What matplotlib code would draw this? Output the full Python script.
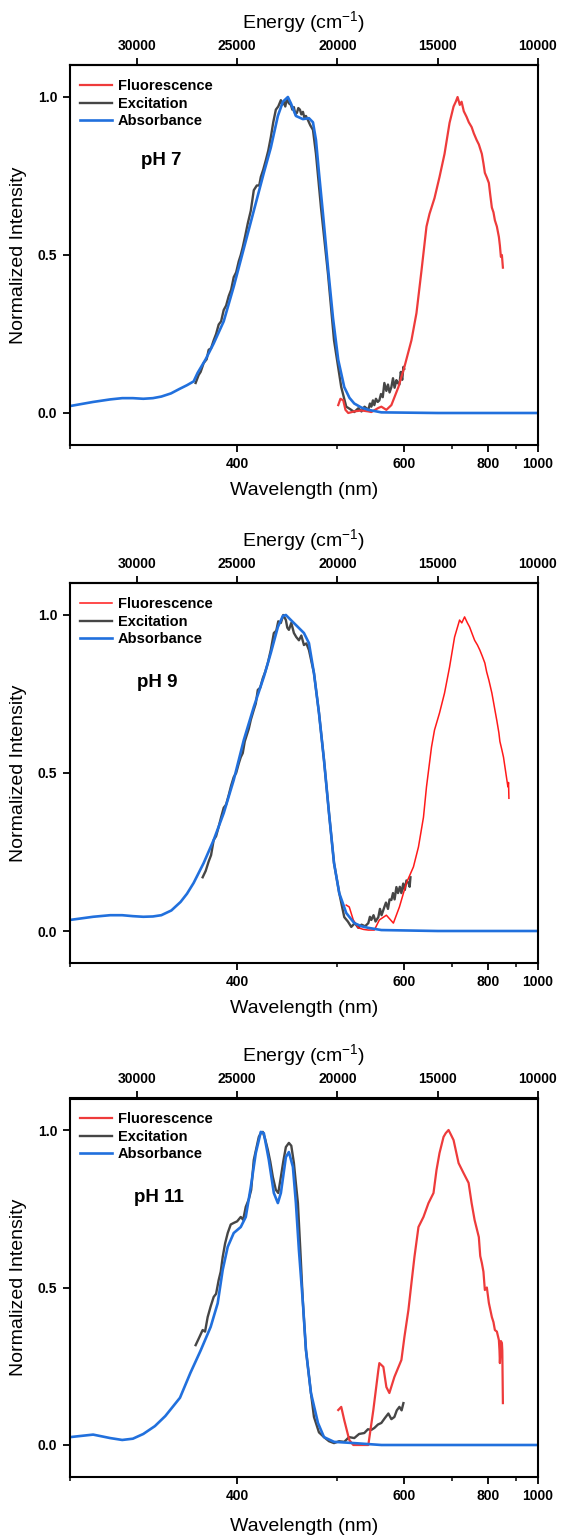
import numpy as np
import matplotlib
matplotlib.use("Agg")
import matplotlib.pyplot as plt
import matplotlib.transforms as mtransforms

plt.rcParams['font.family'] = ['Liberation Sans', 'DejaVu Sans']
plt.rcParams['mathtext.default'] = 'regular'

# ---------------- pH 7 ----------------
abs7_wn = [33333, 32180, 31330, 30730, 30200, 29680, 29200, 28780, 28300, 27880,
           27500, 27170, 26970, 26570, 26170, 25670, 25170, 24670, 24170, 23670,
           23320, 22970, 22720, 22470, 22320, 22070, 21720, 21420, 21220, 21070,
           20920, 20720, 20470, 20220, 19960, 19660, 19400, 19160, 18800, 18460,
           17810, 15000, 12500, 10000]
abs7_y = [0.022, 0.035, 0.043, 0.047, 0.047, 0.045, 0.047, 0.052, 0.062, 0.076,
          0.088, 0.100, 0.127, 0.17, 0.22, 0.29, 0.40, 0.52, 0.64, 0.76,
          0.84, 0.94, 0.985, 1.0, 0.98, 0.94, 0.93, 0.933, 0.92, 0.864,
          0.76, 0.63, 0.46, 0.30, 0.168, 0.082, 0.048, 0.03, 0.017, 0.01,
          0.002, 0.0, 0.0, 0.0]

exc7_wn = [27070, 26920, 26820, 26670, 26520, 26420, 26300, 26170, 26050, 25920,
           25800, 25670, 25550, 25420, 25300, 25170, 25050, 24920, 24820, 24720,
           24600, 24470, 24320, 24170, 24020, 23900, 23820, 23700, 23570, 23450,
           23320, 23200, 23070, 22950, 22820, 22750, 22670, 22600, 22520, 22420,
           22320, 22250, 22170, 22100, 22020, 21950, 21870, 21800, 21720, 21650,
           21570, 21470, 21350, 21220, 21070, 20820, 20470, 20170, 19810, 19560,
           19360, 19160, 18960, 18800, 18650, 18460, 18380, 18310, 18230, 18160,
           18080, 17990, 17910, 17830, 17740, 17660, 17560, 17480, 17400, 17310,
           17230, 17150, 17060, 16990, 16910, 16840, 16770, 16710, 16670]
exc7_y = [0.095, 0.12, 0.13, 0.158, 0.17, 0.20, 0.205, 0.23, 0.25, 0.28,
          0.29, 0.326, 0.34, 0.37, 0.39, 0.43, 0.445, 0.48, 0.50, 0.525,
          0.56, 0.60, 0.64, 0.705, 0.72, 0.72, 0.747, 0.77, 0.80, 0.83,
          0.873, 0.92, 0.96, 0.97, 0.99, 0.975, 0.985, 0.97, 0.995, 0.98,
          0.975, 0.96, 0.968, 0.945, 0.95, 0.965, 0.96, 0.945, 0.953, 0.935,
          0.94, 0.927, 0.91, 0.896, 0.82, 0.65, 0.44, 0.23, 0.082, 0.02,
          0.012, 0.003, 0.015, 0.005, 0.02, 0.01, 0.03, 0.02, 0.04, 0.025,
          0.045, 0.035, 0.04, 0.06, 0.05, 0.095, 0.07, 0.09, 0.065, 0.082,
          0.11, 0.08, 0.104, 0.095, 0.09, 0.13, 0.105, 0.146, 0.14]

fl7_wn = [19960, 19850, 19710, 19600, 19460, 19160, 18800, 18460, 18310, 17960,
          17810, 17560, 17310, 16960, 16660, 16310, 16060, 15810, 15560, 15410,
          15160, 14910, 14660, 14410, 14210, 14100, 14010, 13900, 13810, 13700,
          13560, 13450, 13310, 13200, 13060, 12950, 12800, 12720, 12650, 12550,
          12450, 12380, 12300, 12220, 12150, 12050, 11950, 11900, 11850, 11800,
          11750]
fl7_y = [0.025, 0.045, 0.04, 0.01, 0.0, 0.005, 0.008, 0.005, 0.003, 0.016,
         0.02, 0.01, 0.025, 0.082, 0.146, 0.23, 0.316, 0.45, 0.59, 0.63,
         0.68, 0.747, 0.82, 0.918, 0.97, 0.985, 1.0, 0.975, 0.985, 0.955,
         0.937, 0.92, 0.905, 0.885, 0.864, 0.85, 0.82, 0.79, 0.76, 0.745,
         0.728, 0.69, 0.65, 0.635, 0.61, 0.59, 0.557, 0.53, 0.494, 0.50,
         0.46]

# ---------------- pH 9 ----------------
abs9_wn = [33333, 32180, 31330, 30730, 30200, 29680, 29200, 28780, 28280, 27820,
           27500, 27170, 26670, 26170, 25670, 25170, 24670, 24170, 23670, 23320,
           22970, 22720, 22570, 22320, 21970, 21670, 21420, 21170, 20920, 20670,
           20420, 20170, 19910, 19560, 19160, 18800, 18460, 17810, 15000, 12500,
           10000]
abs9_y = [0.035, 0.045, 0.05, 0.05, 0.047, 0.045, 0.046, 0.05, 0.065, 0.092,
          0.118, 0.152, 0.215, 0.288, 0.373, 0.478, 0.604, 0.709, 0.804, 0.88,
          0.962, 0.997, 1.0, 0.984, 0.962, 0.943, 0.911, 0.816, 0.69, 0.541,
          0.373, 0.215, 0.12, 0.057, 0.025, 0.015, 0.01, 0.003, 0.0, 0.0,
          0.0]

exc9_wn = [26720, 26570, 26420, 26300, 26170, 26050, 25920, 25800, 25670, 25550,
           25420, 25300, 25170, 25050, 24920, 24820, 24720, 24620, 24520, 24420,
           24320, 24170, 24070, 23970, 23850, 23720, 23600, 23470, 23320, 23170,
           23050, 22950, 22820, 22700, 22570, 22500, 22420, 22300, 22170, 22050,
           21920, 21800, 21670, 21550, 21420, 21170, 20920, 20670, 20420, 20170,
           19910, 19660, 19480, 19310, 19130, 18960, 18800, 18620, 18460, 18380,
           18310, 18200, 18100, 17960, 17880, 17800, 17660, 17580, 17480, 17400,
           17310, 17230, 17150, 17060, 16980, 16890, 16810, 16720, 16640, 16560,
           16460, 16400, 16360]
exc9_y = [0.17, 0.19, 0.22, 0.24, 0.288, 0.30, 0.33, 0.36, 0.39, 0.40,
          0.43, 0.46, 0.487, 0.50, 0.53, 0.55, 0.563, 0.60, 0.62, 0.64,
          0.668, 0.70, 0.72, 0.763, 0.77, 0.80, 0.82, 0.848, 0.89, 0.943,
          0.95, 0.98, 0.975, 1.0, 0.984, 0.96, 0.953, 0.975, 0.943, 0.93,
          0.92, 0.935, 0.905, 0.91, 0.889, 0.816, 0.69, 0.541, 0.373, 0.215,
          0.12, 0.044, 0.03, 0.013, 0.025, 0.01, 0.02, 0.015, 0.025, 0.045,
          0.035, 0.05, 0.03, 0.044, 0.07, 0.05, 0.076, 0.09, 0.07, 0.10,
          0.098, 0.12, 0.10, 0.139, 0.12, 0.14, 0.12, 0.15, 0.13, 0.16,
          0.152, 0.14, 0.17]

fl9_wn = [19560, 19410, 19210, 18960, 18700, 18460, 18160, 17910, 17560, 17210,
          16910, 16560, 16210, 15960, 15710, 15560, 15310, 15160, 14910, 14660,
          14410, 14160, 13910, 13800, 13660, 13520, 13410, 13280, 13160, 13020,
          12900, 12780, 12650, 12560, 12450, 12380, 12300, 12220, 12150, 12050,
          11950, 11900, 11800, 11720, 11650, 11580, 11500, 11470, 11450]
fl9_y = [0.082, 0.076, 0.035, 0.01, 0.005, 0.003, 0.003, 0.035, 0.05, 0.025,
         0.076, 0.152, 0.203, 0.266, 0.36, 0.456, 0.582, 0.636, 0.69, 0.753,
         0.835, 0.93, 0.984, 0.975, 0.994, 0.975, 0.962, 0.94, 0.92, 0.905,
         0.889, 0.87, 0.848, 0.82, 0.794, 0.775, 0.753, 0.725, 0.70, 0.665,
         0.627, 0.60, 0.573, 0.55, 0.52, 0.49, 0.456, 0.47, 0.42]

# ---------------- pH 11 ----------------
abs11_wn = [33333, 32180, 31330, 30730, 30200, 29680, 29100, 28580, 27850, 27330,
            26820, 26320, 25970, 25720, 25470, 25170, 24820, 24570, 24320, 24070,
            23820, 23670, 23420, 23170, 22970, 22820, 22570, 22420, 22220, 22070,
            21920, 21720, 21570, 21320, 20970, 20670, 20170, 19160, 17810, 15000,
            12500, 10000]
abs11_y = [0.025, 0.033, 0.022, 0.016, 0.02, 0.035, 0.06, 0.092, 0.15, 0.229,
           0.30, 0.375, 0.45, 0.556, 0.629, 0.673, 0.692, 0.724, 0.819, 0.927,
           0.994, 0.99, 0.905, 0.80, 0.768, 0.80, 0.914, 0.93, 0.883, 0.768,
           0.619, 0.45, 0.302, 0.165, 0.07, 0.025, 0.01, 0.006, 0.0, 0.0,
           0.0, 0.0]

exc11_wn = [27070, 26900, 26720, 26600, 26470, 26320, 26170, 26050, 25920, 25820,
            25720, 25600, 25470, 25320, 25170, 25000, 24820, 24700, 24570, 24420,
            24300, 24170, 24050, 23920, 23820, 23720, 23600, 23470, 23350, 23220,
            23070, 22950, 22820, 22700, 22570, 22420, 22300, 22170, 22070, 21970,
            21850, 21720, 21570, 21320, 21170, 20920, 20670, 20420, 20170, 19920,
            19660, 19420, 19160, 18920, 18660, 18480, 18310, 18160, 17980, 17810,
            17640, 17460, 17310, 17160, 17040, 16910, 16800, 16710]
exc11_y = [0.317, 0.34, 0.365, 0.36, 0.406, 0.44, 0.47, 0.48, 0.524, 0.55,
           0.597, 0.64, 0.673, 0.70, 0.705, 0.71, 0.724, 0.715, 0.756, 0.78,
           0.81, 0.905, 0.94, 0.978, 0.99, 0.994, 0.97, 0.937, 0.90, 0.851,
           0.81, 0.80, 0.851, 0.90, 0.946, 0.959, 0.95, 0.895, 0.83, 0.768,
           0.62, 0.45, 0.302, 0.165, 0.089, 0.04, 0.025, 0.012, 0.006, 0.012,
           0.01, 0.025, 0.022, 0.035, 0.038, 0.05, 0.048, 0.054, 0.065, 0.07,
           0.085, 0.10, 0.082, 0.089, 0.11, 0.121, 0.11, 0.133]

fl11_wn = [19960, 19810, 19660, 19410, 19210, 18800, 18460, 18210, 17960, 17910,
           17710, 17560, 17410, 17160, 16810, 16660, 16460, 16310, 16160, 15960,
           15710, 15460, 15210, 15060, 14910, 14710, 14600, 14460, 14340, 14210,
           13960, 13710, 13460, 13310, 13160, 12950, 12880, 12800, 12720, 12650,
           12550, 12450, 12380, 12300, 12220, 12150, 12050, 11950, 11920, 11900,
           11850, 11800, 11780, 11750]
fl11_y = [0.111, 0.121, 0.079, 0.016, 0.0, 0.0, 0.0, 0.111, 0.238, 0.26,
          0.248, 0.184, 0.165, 0.216, 0.27, 0.343, 0.429, 0.514, 0.597, 0.692,
          0.724, 0.768, 0.80, 0.873, 0.927, 0.978, 0.99, 1.0, 0.985, 0.968,
          0.895, 0.863, 0.832, 0.768, 0.714, 0.66, 0.60, 0.578, 0.55, 0.492,
          0.50, 0.451, 0.43, 0.406, 0.39, 0.365, 0.36, 0.333, 0.30, 0.26,
          0.33, 0.324, 0.30, 0.133]

labels = ["pH 7", "pH 9", "pH 11"]
label_pos = [(0.152, 0.80), (0.144, 0.785), (0.136, 0.785)]
tick_nm = [400, 600, 800, 1000]
minor_nm = [300, 500, 700, 900]
energy_ticks = [30000, 25000, 20000, 15000, 10000]

RED = '#ee3b3b'
RED9 = '#ff1a1a'
GRAY = '#464646'
BLUE = '#2170dd'

fig = plt.figure(figsize=(5.62, 15.37), dpi=100)
H = 1537.0
W = 562.0

panels = [
    (65.4, 444.6, abs7_wn, abs7_y, exc7_wn, exc7_y, fl7_wn, fl7_y, RED, 1.6, 8),
    (583.4, 962.6, abs9_wn, abs9_y, exc9_wn, exc9_y, fl9_wn, fl9_y, RED9, 1.1, 8),
    (1098.5, 1476.5, abs11_wn, abs11_y, exc11_wn, exc11_y, fl11_wn, fl11_y, RED, 1.6, 11),
]

for (top, bot, awn, ay, ewn, ey, fwn, fy, red, flw, xpad), lab, lpos in zip(
        panels, labels, label_pos):
    ax = fig.add_axes([70 / W, 1 - bot / H, 468 / W, (bot - top) / H])
    le, = ax.plot(ewn, ey, color=GRAY, lw=1.7, label='Excitation')
    lf, = ax.plot(fwn, fy, color=red, lw=flw, label='Fluorescence')
    la, = ax.plot(awn, ay, color=BLUE, lw=1.9, label='Absorbance')

    ax.set_xlim(1e7 / 300, 1e4)
    ax.set_ylim(-0.1, 1.1)
    ax.set_yticks([0.0, 0.5, 1.0])
    ax.set_yticklabels(['0.0', '0.5', '1.0'])
    ax.set_xticks([1e7 / v for v in tick_nm])
    ax.set_xticklabels([str(v) for v in tick_nm])
    ax.set_xticks([1e7 / v for v in minor_nm], minor=True)

    for s in ax.spines.values():
        s.set_linewidth(1.5)
    ax.tick_params(axis='both', which='major', direction='out', length=5,
                   width=1.3, labelsize=10, pad=4)
    ax.tick_params(axis='x', which='minor', direction='out', length=3, width=1.1)
    for t in ax.get_xticklabels() + ax.get_yticklabels():
        t.set_fontweight('bold')

    ax.set_xlabel('Wavelength (nm)', fontsize=14, labelpad=xpad)
    ax.set_ylabel('Normalized Intensity', fontsize=14, labelpad=8)

    sec = ax.secondary_xaxis('top', functions=(lambda x: x, lambda x: x))
    sec.set_xticks(energy_ticks)
    sec.set_xticklabels([str(v) for v in energy_ticks])
    sec.spines['top'].set_linewidth(1.5)
    sec.tick_params(axis='x', which='major', direction='out', length=5,
                    width=1.3, labelsize=10, pad=4)
    sec.tick_params(axis='x', which='minor', length=0)
    for t in sec.get_xticklabels():
        t.set_fontweight('bold')
    sec.set_xlabel('Energy (cm$^{-1}$)', fontsize=14, labelpad=8)

    ax.legend([lf, le, la], ['Fluorescence', 'Excitation', 'Absorbance'],
              loc='upper left', bbox_to_anchor=(0.0, 0.99), frameon=False,
              handlelength=2.2, handletextpad=0.4, labelspacing=0.22,
              borderaxespad=0.3, prop={'weight': 'bold', 'size': 10.5})
    trans = mtransforms.blended_transform_factory(ax.transAxes, ax.transData)
    ax.text(lpos[0], lpos[1], lab, transform=trans,
            fontsize=13.5, fontweight='bold', va='center', ha='left')

fig.savefig('out.png', dpi=100)
